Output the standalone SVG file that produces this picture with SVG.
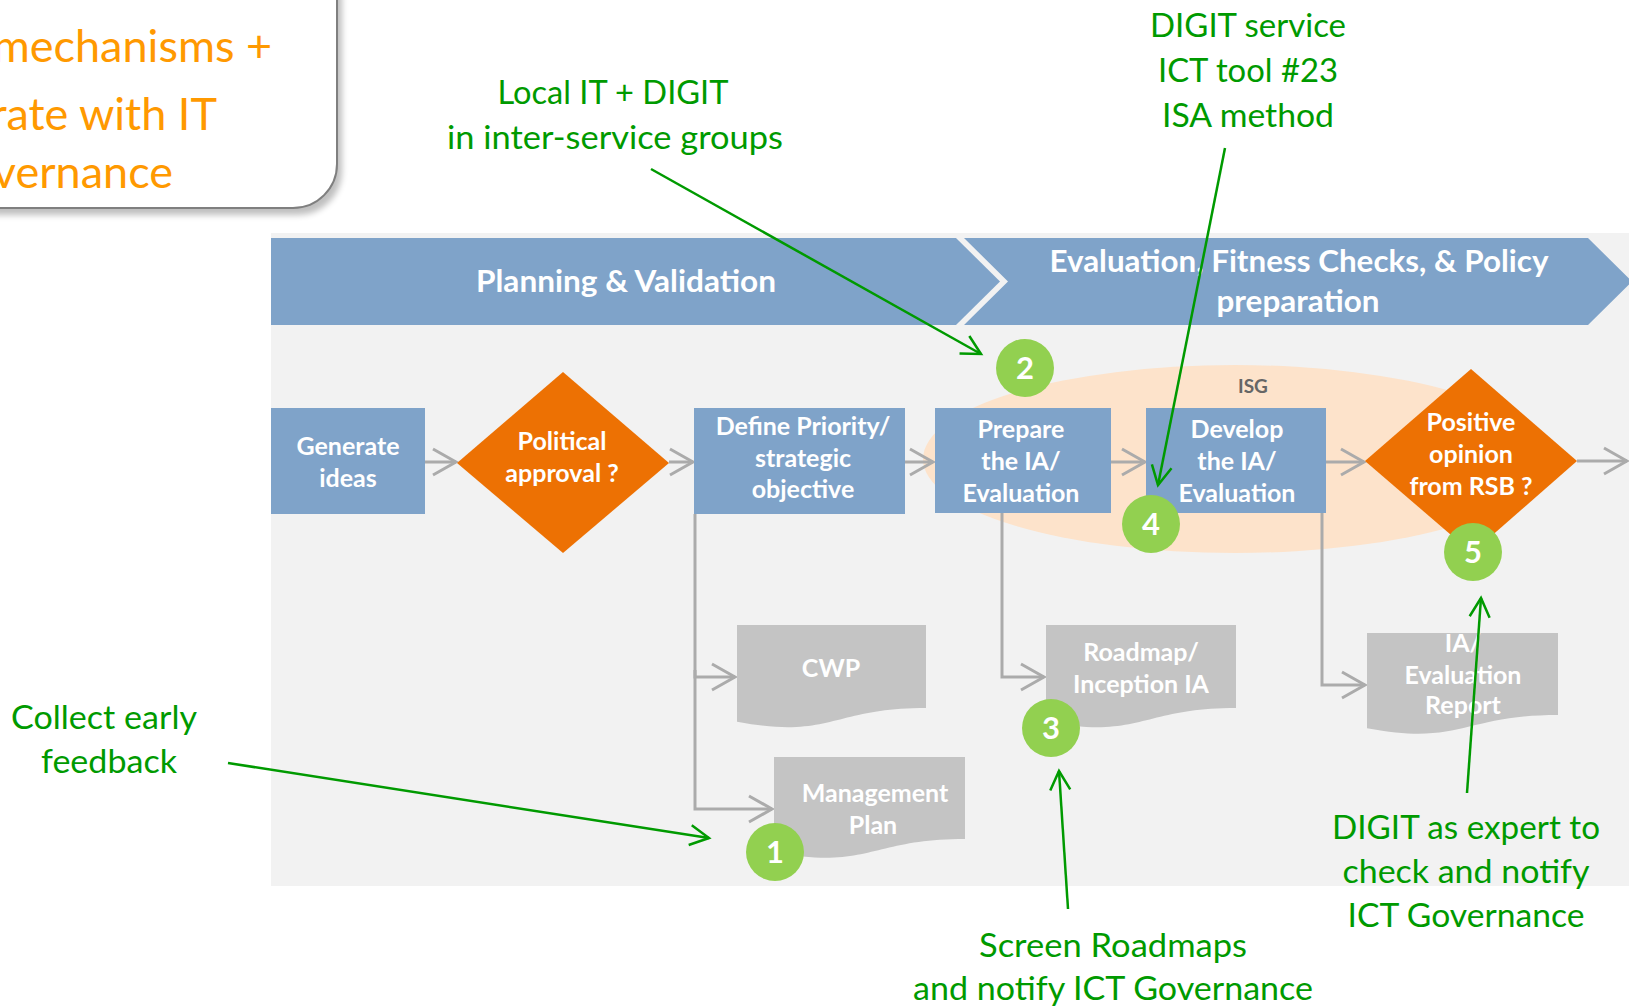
<svg xmlns="http://www.w3.org/2000/svg" width="1629" height="1008" viewBox="0 0 1629 1008">
<defs>
<style>
.t{font-family:Lato,'Open Sans','Liberation Sans',sans-serif}
.ann{font-family:Lato,'Open Sans','Liberation Sans',sans-serif;font-size:33px;fill:#009A00;text-anchor:middle}
.org{font-family:Lato,'Open Sans','Liberation Sans',sans-serif;font-size:45px;fill:#FF9900;text-anchor:end}
.nl{font-family:Lato,'Open Sans','Liberation Sans',sans-serif;font-size:25px;font-weight:bold;fill:#FFFFFF;text-anchor:middle}
.bn{font-family:Lato,'Open Sans','Liberation Sans',sans-serif;font-size:31px;font-weight:bold;fill:#FFFFFF;text-anchor:middle}
.num{font-family:Lato,'Open Sans','Liberation Sans',sans-serif;font-size:31px;font-weight:bold;fill:#FFFFFF;text-anchor:middle}
.box{fill:#7FA3C9}
.dia{fill:#ED7103}
.doc{fill:#C4C4C4}
.circ{fill:#92D050}
.gc{fill:none;stroke:#ABABAB;stroke-width:3;marker-end:url(#ga)}
.grn{fill:none;stroke:#009A00;stroke-width:2.5;marker-end:url(#gr)}
</style>
<marker id="ga" markerUnits="userSpaceOnUse" markerWidth="28" markerHeight="30" viewBox="0 0 28 30" refX="25" refY="15" orient="auto">
<path d="M2,2 L25,15 L2,28" fill="none" stroke="#ABABAB" stroke-width="3"/>
</marker>
<marker id="gr" markerUnits="userSpaceOnUse" markerWidth="26" markerHeight="26" viewBox="0 0 26 26" refX="22" refY="13" orient="auto">
<path d="M3,3 L22,13 L3,23" fill="none" stroke="#009A00" stroke-width="2.5"/>
</marker>
<filter id="sh" x="-10%" y="-10%" width="130%" height="130%">
<feGaussianBlur stdDeviation="3"/>
</filter>
</defs>
<rect x="0" y="0" width="1629" height="1008" fill="#FFFFFF"/>

<g id="callout-box">
<rect x="-48" y="-48" width="388" height="260" rx="44" fill="#000" opacity="0.25" filter="url(#sh)" transform="translate(2,3)"/>
<rect x="-50" y="-50" width="387" height="258" rx="44" fill="#FFFFFF" stroke="#7F7F7F" stroke-width="2"/>
<text class="org" x="272" y="62">mechanisms +</text>
<text class="org" x="217" y="130">rate with IT</text>
<text class="org" x="173" y="188">vernance</text>
</g>

<g id="panel">
<rect x="271" y="233" width="1358" height="653" fill="#F2F2F2"/>
</g>

<g id="banner-planning">
<polygon class="box" points="271,238 956,238 1000,281.5 956,325 271,325"/>
<text class="bn" x="626" y="292" textLength="300" lengthAdjust="spacingAndGlyphs">Planning &amp; Validation</text>
</g>
<g id="banner-evaluation">
<polygon class="box" points="964,238 1588,238 1632,281.5 1588,325 964,325 1008,281.5"/>
<text class="bn" x="1299" y="272" textLength="499" lengthAdjust="spacingAndGlyphs">Evaluation, Fitness Checks, &amp; Policy</text>
<text class="bn" x="1298" y="312" textLength="163" lengthAdjust="spacingAndGlyphs">preparation</text>
</g>

<g id="isg">
<ellipse cx="1235" cy="459" rx="312" ry="94" fill="#FDE3CB"/>
<text class="t" x="1253" y="393" font-size="19" font-weight="bold" fill="#666666" text-anchor="middle">ISG</text>
</g>

<g id="connectors">
<line class="gc" x1="425" y1="462" x2="456" y2="462"/>
<line class="gc" x1="669" y1="462" x2="693" y2="462"/>
<line class="gc" x1="905" y1="462" x2="933" y2="462"/>
<line class="gc" x1="1111" y1="462" x2="1145" y2="462"/>
<line class="gc" x1="1326" y1="462" x2="1364" y2="462"/>
<line class="gc" x1="1577" y1="461" x2="1627" y2="461"/>
<polyline class="gc" points="695,514 695,677 735,677"/>
<polyline class="gc" points="695,670 695,809 772,809"/>
<polyline class="gc" points="1002,513 1002,677 1044,677"/>
<polyline class="gc" points="1322,513 1322,685 1365,685"/>
</g>

<g id="generate-ideas">
<rect class="box" x="271" y="408" width="154" height="106"/>
<text class="nl" x="348" y="455">Generate</text>
<text class="nl" x="348" y="487">ideas</text>
</g>
<g id="political-approval">
<polygon class="dia" points="563,372 669,463 563,553 457,463"/>
<text class="nl" x="562" y="450">Political</text>
<text class="nl" x="562" y="482">approval ?</text>
</g>
<g id="define-priority">
<rect class="box" x="694" y="408" width="211" height="106"/>
<text class="nl" x="803" y="435">Define Priority/</text>
<text class="nl" x="803" y="467">strategic</text>
<text class="nl" x="803" y="498">objective</text>
</g>
<g id="prepare-ia">
<rect class="box" x="935" y="408" width="176" height="105"/>
<text class="nl" x="1021" y="438">Prepare</text>
<text class="nl" x="1021" y="470">the IA/</text>
<text class="nl" x="1021" y="502">Evaluation</text>
</g>
<g id="develop-ia">
<rect class="box" x="1146" y="408" width="180" height="105"/>
<text class="nl" x="1237" y="438">Develop</text>
<text class="nl" x="1237" y="470">the IA/</text>
<text class="nl" x="1237" y="502">Evaluation</text>
</g>
<g id="positive-opinion">
<polygon class="dia" points="1471,369 1577,461 1472,553 1365,461"/>
<text class="nl" x="1471" y="431">Positive</text>
<text class="nl" x="1471" y="463">opinion</text>
<text class="nl" x="1471" y="495">from RSB ?</text>
</g>

<g id="cwp">
<path class="doc" d="M737,625 H926 V708 C831.5,708 831.5,739.6 737,721.7 Z"/>
<text class="nl" x="831" y="677">CWP</text>
</g>
<g id="management-plan">
<path class="doc" d="M774,757 H965 V839 C869.5,839 869.5,870 774,852.3 Z"/>
<text class="nl" x="875" y="802">Management</text>
<text class="nl" x="873" y="834">Plan</text>
</g>
<g id="roadmap">
<path class="doc" d="M1046,625 H1236 V708 C1141,708 1141,739.6 1046,721.7 Z"/>
<text class="nl" x="1141" y="661">Roadmap/</text>
<text class="nl" x="1141" y="693">Inception IA</text>
</g>
<g id="ia-report">
<path class="doc" d="M1367,633 H1558 V715 C1462.5,715 1462.5,746 1367,728.3 Z"/>
<text class="nl" x="1463" y="652">IA/</text>
<text class="nl" x="1463" y="684">Evaluation</text>
<text class="nl" x="1463" y="714">Report</text>
</g>

<g id="badge-1"><circle class="circ" cx="775" cy="852" r="29"/><text class="num" x="775" y="863">1</text></g>
<g id="badge-2"><circle class="circ" cx="1025" cy="368" r="29"/><text class="num" x="1025" y="379">2</text></g>
<g id="badge-3"><circle class="circ" cx="1051" cy="728" r="29"/><text class="num" x="1051" y="739">3</text></g>
<g id="badge-4"><circle class="circ" cx="1151" cy="524" r="29"/><text class="num" x="1151" y="535">4</text></g>
<g id="badge-5"><circle class="circ" cx="1473" cy="552" r="29"/><text class="num" x="1473" y="563">5</text></g>

<g id="annotation-arrows">
<line class="grn" x1="651" y1="169" x2="981" y2="354"/>
<line class="grn" x1="1225" y1="148" x2="1158" y2="485"/>
<line class="grn" x1="228" y1="763" x2="709" y2="838"/>
<line class="grn" x1="1068" y1="909" x2="1059" y2="771"/>
<line class="grn" x1="1467" y1="793" x2="1481" y2="598"/>
</g>

<g id="annotations">
<text class="ann" x="613" y="104" textLength="231" lengthAdjust="spacingAndGlyphs">Local IT + DIGIT</text>
<text class="ann" x="615" y="149" textLength="336" lengthAdjust="spacingAndGlyphs">in inter-service groups</text>
<text class="ann" x="1248" y="37" textLength="196" lengthAdjust="spacingAndGlyphs">DIGIT service</text>
<text class="ann" x="1248" y="82" textLength="180" lengthAdjust="spacingAndGlyphs">ICT tool #23</text>
<text class="ann" x="1248" y="127" textLength="172" lengthAdjust="spacingAndGlyphs">ISA method</text>
<text class="ann" x="104" y="729" textLength="186" lengthAdjust="spacingAndGlyphs">Collect early</text>
<text class="ann" x="109" y="773" textLength="136" lengthAdjust="spacingAndGlyphs">feedback</text>
<text class="ann" x="1113" y="957" textLength="268" lengthAdjust="spacingAndGlyphs">Screen Roadmaps</text>
<text class="ann" x="1113" y="1000" textLength="400" lengthAdjust="spacingAndGlyphs">and notify ICT Governance</text>
<text class="ann" x="1466" y="839" textLength="268" lengthAdjust="spacingAndGlyphs">DIGIT as expert to</text>
<text class="ann" x="1466" y="883" textLength="247" lengthAdjust="spacingAndGlyphs">check and notify</text>
<text class="ann" x="1466" y="927" textLength="237" lengthAdjust="spacingAndGlyphs">ICT Governance</text>
</g>
</svg>
